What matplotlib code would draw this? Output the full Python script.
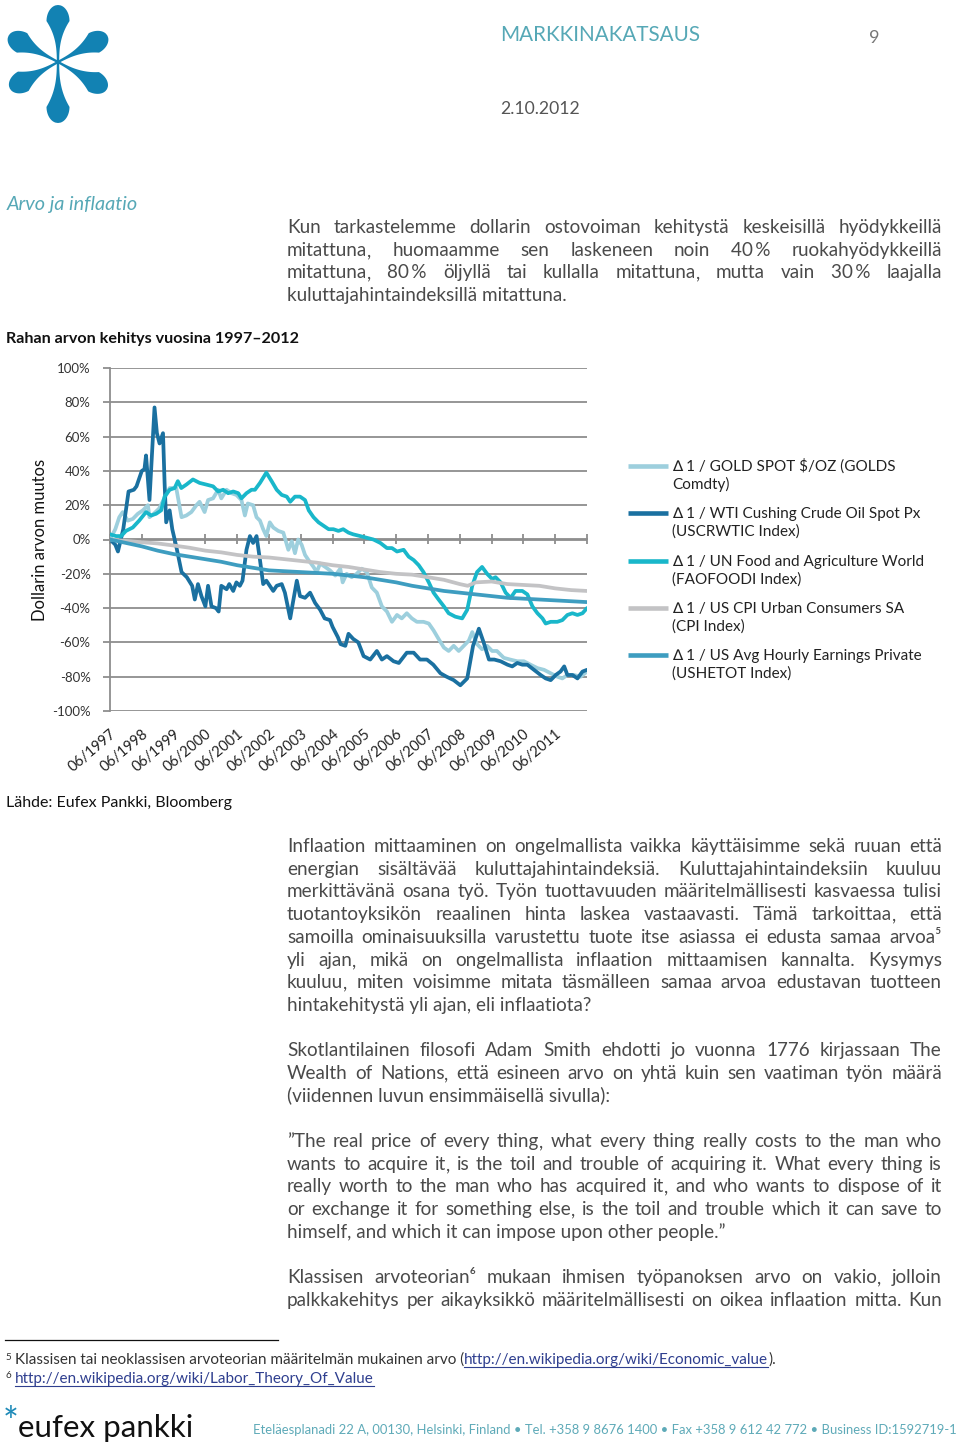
import matplotlib
matplotlib.use("Agg")
import matplotlib.pyplot as plt
from matplotlib.patches import Polygon
import numpy as np

# ---------------- chart data ----------------
series_names = [
    "∆ 1 / GOLD SPOT $/OZ (GOLDS\nComdty)",
    "∆ 1 / WTI Cushing Crude Oil Spot Px\n(USCRWTIC Index)",
    "∆ 1 / UN Food and Agriculture World\n(FAOFOODI Index)",
    "∆ 1 / US CPI Urban Consumers SA\n(CPI Index)",
    "∆ 1 / US Avg Hourly Earnings Private\n(USHETOT Index)",
]
series_colors = ["#9dcfdd", "#1a70a0", "#19b7ca", "#c3c3c5", "#3e9dc0"]

# months since 06/1997, change in %
gold_months = [0, 2, 3.5, 4.8, 6.7, 8.6, 10.5, 12.4, 14.3, 14.9, 16.5, 18.5, 20.5, 22.5, 25, 27, 28.8,
               30.7, 32.6, 33.8, 35.7, 37, 38.9, 40.8, 42, 44, 45.8, 47.7, 49.6, 50.9, 52, 54, 55.3,
               56.6, 57.8, 59, 60.3, 61.6, 63.5, 65.4, 67.3, 68.6, 69.8, 71, 72.3, 73.6, 74.9, 76.8,
               78, 79.3, 81.2, 83, 85, 86.9, 87.8, 89.3, 91.2, 93.1, 95, 96.9, 98.8, 100.7, 102.6,
               104.5, 106.4, 108.3, 110.1, 112, 113.9, 115.8, 118.3, 120.3, 122.1, 124, 126, 127.8,
               129.7, 131.6, 133.5, 135.4, 136.7, 138.5, 140.4, 142.3, 144.2, 146, 148.6, 151, 153.7,
               156.2, 158.7, 161.3, 163.8, 166.3, 168.8, 170.7, 172.6, 175.1, 177.6, 180]
gold_values = [0, 6, 13, 16, 11, 12, 15, 17, 20, 13, 15, 18, 24, 30, 30, 13, 14,
               16, 20, 22, 16, 23, 24, 29, 24, 29, 27, 26, 23, 14, 21, 20, 13,
               11, 6, 2, 10, 7, 5, 4, -6, -1, -8, 0, -3, -9, -12, -16,
               -19, -14, -16, -18, -21, -17, -25, -20, -22, -20, -17, -19, -28, -31, -39,
               -42, -48, -44, -46, -43, -46, -48, -48, -49, -53, -58, -63, -65,
               -62, -65, -62, -59, -54, -61, -64, -62, -65, -65, -69, -70, -71,
               -71, -73, -75, -76, -78, -80, -81, -79, -79, -80, -77]

oil_months = [0, 2, 3, 5, 7, 9, 10, 12, 13, 13.6, 14.9, 16.8, 17.7, 18.7, 20, 20.6, 21.2, 22.5, 23.5,
              25, 27, 29, 31, 32, 33.2, 34.5, 36, 37, 38.3, 40, 41, 42, 44, 45, 46.5, 47.7, 49, 50,
              51.5, 52.8, 54, 55.3, 56.6, 57.8, 59, 60.3, 61.6, 62.9, 64.8, 66, 68, 69, 70.5, 71.7,
              73.6, 75.5, 77.4, 79.3, 81, 83, 84, 86, 87, 88.8, 90, 91.8, 93.7, 95.7, 98.2, 100.7,
              102.6, 104.5, 107, 109, 112, 114.6, 117, 119.6, 122, 124.7, 127, 129.7, 132.2, 134.8,
              137, 139.2, 141, 143, 145, 147.4, 150, 151.8, 153.7, 155.6, 157.5, 160, 162.5, 164.4,
              166.3, 168.2, 170, 171.4, 172.6, 174.5, 176.4, 178.3, 180]
oil_values = [0, -3, -7, 6, 28, 29, 31, 40, 41, 49, 23, 77, 62, 56, 62, 33, 10, 17, 6,
              -4, -19, -22, -27, -35, -26, -33, -39, -27, -39, -40, -42, -27, -29, -26, -30, -25, -27, -24,
              -6, 2, -2, 2, -12, -26, -24, -27, -30, -27, -26, -31, -46, -37, -24, -33,
              -34, -31, -37, -41, -46, -47, -51, -57, -61, -62, -55, -58, -60, -68, -70, -65,
              -70, -68, -71, -72, -66, -66, -70, -70, -73, -78, -80, -82, -85, -81,
              -62, -52, -60, -70, -70, -71, -73, -74, -72, -73, -73, -76, -79, -81,
              -82, -79, -77, -74, -79, -79, -81, -77, -76]

food_months = [0, 2.3, 4.2, 6, 8.6, 11, 13.6, 15.5, 17.4, 19.3, 20.6, 22.5, 24.4, 25.6, 26.9, 28.8,
               31.3, 33.8, 36.4, 38.9, 40.8, 42.7, 44.6, 46.5, 48.4, 49.6, 51.5, 53.4, 54.7, 56.6,
               57.8, 59, 61, 62.9, 64.8, 66.7, 68, 69.8, 71.7, 73.6, 75, 76.8, 78.7, 80.6, 82.5,
               84.3, 86.2, 88, 90, 91.8, 94.4, 96.9, 99.4, 102, 104.5, 106.4, 108.3, 110.8, 112.7,
               114.6, 116.5, 118.3, 120.3, 122.1, 124, 126, 127.8, 130.3, 132.9, 134.8, 136.7, 138.5,
               140.4, 142.3, 144.2, 145.5, 147.4, 149.3, 151.2, 153, 155.6, 157.5, 159.4, 161.3, 163.2,
               164.4, 166.3, 168.8, 170.7, 172.6, 174.5, 176.4, 178.3, 180]
food_values = [3, 2, 2, 5, 7, 11, 16, 14, 15, 17, 25, 29, 30, 34, 30, 32,
               35, 33, 32, 31, 28, 29, 27, 28, 27, 24, 27, 29, 29, 33,
               36, 39, 34, 29, 26, 25, 22, 25, 25, 23, 17, 13, 10, 8, 6,
               6, 5, 6, 4, 3, 2, 1, 0, -2, -5, -5, -7, -6, -10,
               -12, -15, -19, -25, -31, -35, -39, -43, -45, -46, -41, -27, -19,
               -16, -20, -23, -22, -25, -31, -34, -30, -30, -32, -39, -43, -46,
               -49, -48, -48, -47, -44, -43, -44, -43, -40]

cpi_months = [0, 6, 12, 18, 24, 30, 36, 42, 48, 54, 60, 66, 72, 78, 84, 90, 96, 102, 108, 114,
              120, 126, 132, 135, 138, 144, 150, 156, 162, 168, 174, 180]
cpi_values = [0, -0.8, -1.6, -2.3, -3.5, -4.8, -6.5, -7.5, -9, -10, -10.5, -11.5, -12.5, -13.5, -15,
              -16, -17.5, -19, -20, -20.5, -22, -23.5, -26, -27, -25, -24.5, -26, -26.5, -27, -28.5,
              -29.5, -30]

earn_months = [0, 6, 12, 18, 24, 30, 36, 42, 48, 54, 60, 66, 72, 78, 84, 90, 96, 102, 108, 114,
               120, 126, 132, 138, 144, 150, 156, 162, 168, 174, 180]
earn_values = [0, -2, -4, -6.5, -8.5, -10, -11.5, -13, -15, -16.5, -18, -18.5, -19, -19.5, -20,
               -21, -22, -23.5, -25, -27, -28.5, -30, -31, -32, -33, -34, -34.5, -35, -35.5, -36, -36.5]

y_ticks = [-100, -80, -60, -40, -20, 0, 20, 40, 60, 80, 100]
year_tick_months = list(range(0, 181, 12))
x_tick_labels = ["06/1997", "06/1998", "06/1999", "06/2000", "06/2001", "06/2002", "06/2003",
                 "06/2004", "06/2005", "06/2006", "06/2007", "06/2008", "06/2009", "06/2010", "06/2011"]

# ---------------- page text ----------------
para1 = ["Kun tarkastelemme dollarin ostovoiman kehitystä keskeisillä hyödykkeillä",
         "mitattuna, huomaamme sen laskeneen noin 40\u2009% ruokahyödykkeillä",
         "mitattuna, 80\u2009% öljyllä tai kullalla mitattuna, mutta vain 30\u2009% laajalla",
         "kuluttajahintaindeksillä mitattuna."]
para2 = ["Inflaation mittaaminen on ongelmallista vaikka käyttäisimme sekä ruuan että",
         "energian sisältävää kuluttajahintaindeksiä. Kuluttajahintaindeksiin kuuluu",
         "merkittävänä osana työ. Työn tuottavuuden määritelmällisesti kasvaessa tulisi",
         "tuotantoyksikön reaalinen hinta laskea vastaavasti. Tämä tarkoittaa, että",
         "samoilla ominaisuuksilla varustettu tuote itse asiassa ei edusta samaa arvoa⁵",
         "yli ajan, mikä on ongelmallista inflaation mittaamisen kannalta. Kysymys",
         "kuuluu, miten voisimme mitata täsmälleen samaa arvoa edustavan tuotteen",
         "hintakehitystä yli ajan, eli inflaatiota?"]
para3 = ["Skotlantilainen filosofi Adam Smith ehdotti jo vuonna 1776 kirjassaan The",
         "Wealth of Nations, että esineen arvo on yhtä kuin sen vaatiman työn määrä",
         "(viidennen luvun ensimmäisellä sivulla):"]
para4 = ["”The real price of every thing, what every thing really costs to the man who",
         "wants to acquire it, is the toil and trouble of acquiring it. What every thing is",
         "really worth to the man who has acquired it, and who wants to dispose of it",
         "or exchange it for something else, is the toil and trouble which it can save to",
         "himself, and which it can impose upon other people.”"]
para5 = ["Klassisen arvoteorian⁶ mukaan ihmisen työpanoksen arvo on vakio, jolloin",
         "palkkakehitys per aikayksikkö määritelmällisesti on oikea inflaation mitta. Kun"]

# ---------------- figure ----------------
W, H = 960, 1450
fig = plt.figure(figsize=(W / 100, H / 100), dpi=100)
bg = fig.add_axes([0, 0, 1, 1], zorder=0)
bg.set_xlim(0, W)
bg.set_ylim(H, 0)
bg.axis("off")
R = fig.canvas.get_renderer()
FAM = ["Lato", "DejaVu Sans"]
TEAL = "#56a8b6"
BODY = "#4a4a4a"
GRID = "#8e8e8e"


def txt(x, y, s, size, **kw):
    kw.setdefault("family", FAM)
    kw.setdefault("va", "baseline")
    return bg.text(x, y, s, fontsize=size, **kw)


def wid(t):
    return t.get_window_extent(R).width


def fit(x, y, s, w, size=12, **kw):
    t = txt(x, y, s, size, **kw)
    t.set_fontsize(size * w / wid(t))
    return t


# logo: six tear-drop petals
logo_c = "#1282b3"
cx, cy = 58, 62


def petal(angle_deg, L, b):
    a = 1.4 * b
    c = L - a
    s = np.linspace(0, L, 160)
    w = np.where(s >= c, b * np.sqrt(np.clip(1 - ((s - c) / a) ** 2, 0, 1)),
                 1.2 + (b - 1.2) * (s / c) ** 2.6)
    ang = np.deg2rad(angle_deg)
    ux, uy = np.cos(ang), np.sin(ang)
    px, py = -uy, ux
    left = np.column_stack([cx + s * ux + w * px, cy + s * uy + w * py])
    right = np.column_stack([cx + s * ux - w * px, cy + s * uy - w * py])[::-1]
    bg.add_patch(Polygon(np.vstack([left, right]), closed=True, color=logo_c, lw=0))


for ang, L, b in [(-90, 57, 11.5), (90, 61, 11.5), (-152, 56, 11), (-28, 56, 11),
                  (151, 55, 11), (29, 56, 11)]:
    petal(ang, L, b)

# header
fit(500, 41, "MARKKINAKATSAUS", 200, 14, color=TEAL)
txt(869, 43, "9", 13, color="#777777")
fit(500, 114, "2.10.2012", 80, 11, color="#555555")
fit(7, 210, "Arvo ja inflaatio", 131, 13, color=TEAL, style="italic")

# body size from a left-aligned last line
_m = txt(0, 0, para1[-1], 13)
BODY_SIZE = 13 * 280 / wid(_m)
_m.remove()


def word_parts(word, y):
    # a trailing comma is drawn on its own so that the word keeps the common baseline
    if word.endswith(",") and len(word) > 1:
        return [txt(0, y, word[:-1], BODY_SIZE, color=BODY), txt(0, y, ",", BODY_SIZE, color=BODY)]
    return [txt(0, y, word, BODY_SIZE, color=BODY)]


def justify(lines, y0, x0=287, x1=942, dy=22.7, last_left=True):
    for i, line in enumerate(lines):
        y = round(y0 + i * dy + 6)
        if i == len(lines) - 1 and last_left:
            txt(x0, y, line, BODY_SIZE, color=BODY)
            continue
        words = [word_parts(w_, y) for w_ in line.split(" ")]
        ws = [sum(wid(p) for p in parts) for parts in words]
        gap = (x1 - x0 - sum(ws)) / (len(words) - 1)
        x = x0
        for parts, w_ in zip(words, ws):
            xp = x
            for p in parts:
                p.set_x(xp)
                xp += wid(p)
            x += w_ + gap


justify(para1, 227)
justify(para2, 846)
justify(para3, 1050)
justify(para4, 1141)
justify(para5, 1277, last_left=False)

fit(6, 343, "Rahan arvon kehitys vuosina 1997–2012", 294, 11, color="#111111", weight="bold")
fit(6, 807, "Lähde: Eufex Pankki, Bloomberg", 226, 11, color="#111111")

# y label
yl = txt(0, 0, "Dollarin arvon muutos", 11.5, color="#111111", va="center", ha="center")
yl.set_fontsize(11.5 * 162 / wid(yl))
yl.set_position((40, 540))
yl.set_rotation(90)

# ---------------- chart ----------------
ax = fig.add_axes([110 / W, 1 - 711 / H, (587 - 110) / W, (711 - 368) / H], zorder=2)
ax.patch.set_alpha(0)
all_months = [gold_months, oil_months, food_months, cpi_months, earn_months]
all_values = [gold_values, oil_values, food_values, cpi_values, earn_values]
for m, v, c in zip(all_months, all_values, series_colors):
    ax.plot(m, v, color=c, lw=2.7, solid_joinstyle="round", solid_capstyle="round", zorder=3)

ax.set_xlim(0, 180)
ax.set_ylim(-100, 100)
ax.set_yticks(y_ticks)
ax.set_yticklabels([f"{v}%" for v in y_ticks], family=FAM)
ax.yaxis.grid(True, color=GRID, lw=1.3)
ax.set_axisbelow(True)
for s in ["top", "right", "bottom"]:
    ax.spines[s].set_visible(False)
ax.spines["left"].set_color(GRID)
ax.spines["left"].set_linewidth(1.3)
ax.tick_params(axis="y", length=5, width=1.3, color=GRID, labelsize=9.5, labelcolor="#333333", pad=9)
ax.set_xticks(year_tick_months[:len(x_tick_labels)])
ax.set_xticklabels(x_tick_labels, rotation=40, ha="right", va="top", rotation_mode="anchor",
                   family=FAM, fontsize=10.5, color="#222222")
ax.tick_params(axis="x", length=0, pad=11.5)

sec = ax.secondary_xaxis(0.5)
sec.set_xticks(year_tick_months)
sec.tick_params(axis="x", direction="inout", length=7, width=1.3, color=GRID,
                labelbottom=False, labeltop=False)
for s in sec.spines.values():
    s.set_color(GRID)
    s.set_linewidth(1.3)

# legend (manual, text lines aligned like the reference)
for i, (name, c) in enumerate(zip(series_names, series_colors)):
    y = 466 + i * 47.3
    bg.plot([628, 668], [y, y], color=c, lw=3.3, solid_capstyle="butt")
    for j, line in enumerate(name.split("\n")):
        txt(672, round(y + 5 + j * 18), line, 11, color="#222222")

# ---------------- footnotes ----------------
bg.plot([5, 278], [1340, 1340], color="#111111", lw=0.9)
LINK = "#2f3f8f"
FNC = "#333333"
fn1 = txt(15, 1364, "Klassisen tai neoklassisen arvoteorian määritelmän mukainen arvo (", 10.5, color=FNC)
FN = 10.5 * 451 / wid(fn1)
fn1.set_fontsize(FN)
txt(6, 1360, "5", FN * 0.65, color=FNC)
x = 15 + wid(fn1)
lk = txt(x, 1364, "http://en.wikipedia.org/wiki/Economic_value", FN, color=LINK)
lw_ = wid(lk)
bg.plot([x, x + lw_], [1366.5, 1366.5], color=LINK, lw=0.8)
txt(x + lw_, 1364, ").", FN, color=FNC)
txt(6, 1378, "6", FN * 0.65, color=FNC)
lk2 = txt(15, 1383, "http://en.wikipedia.org/wiki/Labor_Theory_Of_Value", FN, color=LINK)
bg.plot([15, 15 + wid(lk2)], [1385.5, 1385.5], color=LINK, lw=0.8)

# ---------------- footer ----------------
fit(18, 1437, "eufex pankki", 175, 26, color="#111111")
txt(11, 1435, "*", 27, color="#1e8ab8", ha="center")
fit(253, 1434, "Eteläesplanadi 22 A, 00130, Helsinki, Finland • Tel. +358 9 8676 1400 • "
    "Fax +358 9 612 42 772 • Business ID:1592719-1", 705, 9.5, color="#5eaab8")

fig.savefig("out.png", dpi=100)
